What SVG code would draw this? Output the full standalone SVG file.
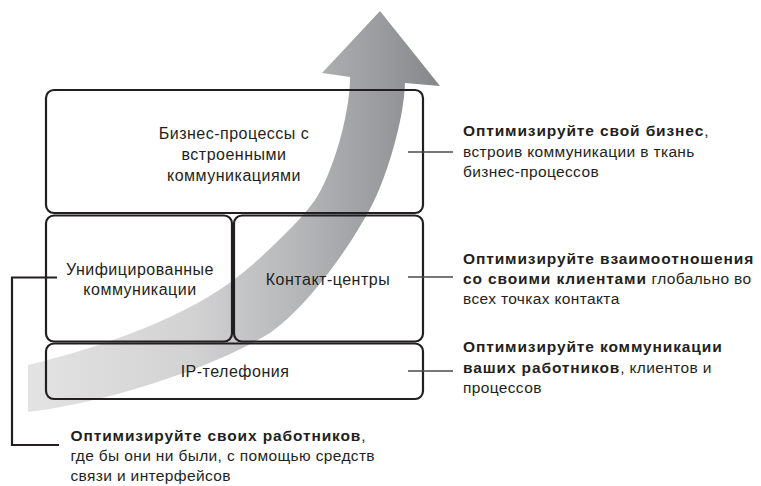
<svg xmlns="http://www.w3.org/2000/svg" width="761" height="486" viewBox="0 0 761 486">
<defs>
<linearGradient id="arrowGrad" gradientUnits="userSpaceOnUse" x1="28" y1="0" x2="440" y2="0">
<stop offset="0" stop-color="#e3e3e3"/>
<stop offset="0.4" stop-color="#d2d2d3"/>
<stop offset="0.65" stop-color="#b6b7b9"/>
<stop offset="0.85" stop-color="#9b9c9f"/>
<stop offset="1" stop-color="#86878a"/>
</linearGradient>
<style>
.box{fill:none;stroke:#231f20;stroke-width:2.2}
.lbl{font-family:"Liberation Sans",Arial,sans-serif;font-size:16px;letter-spacing:0.5px;fill:#231f20;text-anchor:middle}
.note{font-family:"Liberation Sans",Arial,sans-serif;font-size:15.5px;letter-spacing:0.36px;fill:#231f20}
.b{font-weight:bold;letter-spacing:0.88px}
.tick{stroke:#4a4a4a;stroke-width:1.6;fill:none}
.brk{stroke:#231f20;stroke-width:2.2;fill:none}
</style>
</defs>
<rect width="761" height="486" fill="#ffffff"/>
<g id="arrow">
<path fill="url(#arrowGrad)" d="M28,365 C110,345 190,315 240,275 C265,255 301,220 315,200 C331,177 350,117 350,77 L322,73 L380,11 L440,86 L405,83 C404,120 386.5,176.5 373,203 C348.7,250.7 305,308.5 270,333 C200,375 90,405 28,412 Z"/>
</g>
<g id="node-business">
<rect class="box" x="46" y="90" width="377" height="123" rx="8"/>
<text class="lbl" x="234" y="139">Бизнес-процессы с</text>
<text class="lbl" x="234" y="160">встроенными</text>
<text class="lbl" x="234" y="181">коммуникациями</text>
</g>
<g id="node-uc">
<rect class="box" x="46" y="215.5" width="186" height="126" rx="8"/>
<text class="lbl" x="140" y="275">Унифицированные</text>
<text class="lbl" x="140" y="295">коммуникации</text>
</g>
<g id="node-cc">
<rect class="box" x="234" y="215.5" width="189" height="126" rx="8"/>
<text class="lbl" x="328" y="285">Контакт-центры</text>
</g>
<g id="node-ip">
<rect class="box" x="46" y="343.5" width="377" height="55.5" rx="8"/>
<text class="lbl" x="235" y="377">IP-телефония</text>
</g>
<g id="connectors">
<line class="tick" x1="408" y1="152" x2="453" y2="152"/>
<line class="tick" x1="408" y1="277" x2="453" y2="277"/>
<line class="tick" x1="408" y1="371" x2="453" y2="371"/>
<polyline class="brk" points="57,277.5 12,277.5 12,445 59,445"/>
</g>
<g id="note-business">
<text class="note" x="463" y="136"><tspan class="b">Оптимизируйте свой бизнес</tspan>,</text>
<text class="note" x="463" y="156.5">встроив коммуникации в ткань</text>
<text class="note" x="463" y="177">бизнес-процессов</text>
</g>
<g id="note-cc">
<text class="note" x="463" y="264"><tspan class="b">Оптимизируйте взаимоотношения</tspan></text>
<text class="note" x="463" y="284"><tspan class="b">со своими клиентами</tspan> глобально во</text>
<text class="note" x="463" y="304">всех точках контакта</text>
</g>
<g id="note-ip">
<text class="note" x="463" y="352"><tspan class="b">Оптимизируйте коммуникации</tspan></text>
<text class="note" x="463" y="373"><tspan class="b">ваших работников</tspan>, клиентов и</text>
<text class="note" x="463" y="393">процессов</text>
</g>
<g id="note-uc">
<text class="note" x="70.5" y="440.5"><tspan class="b">Оптимизируйте своих работников</tspan>,</text>
<text class="note" x="70.5" y="460.5">где бы они ни были, с помощью средств</text>
<text class="note" x="70.5" y="480.5">связи и интерфейсов</text>
</g>
</svg>
